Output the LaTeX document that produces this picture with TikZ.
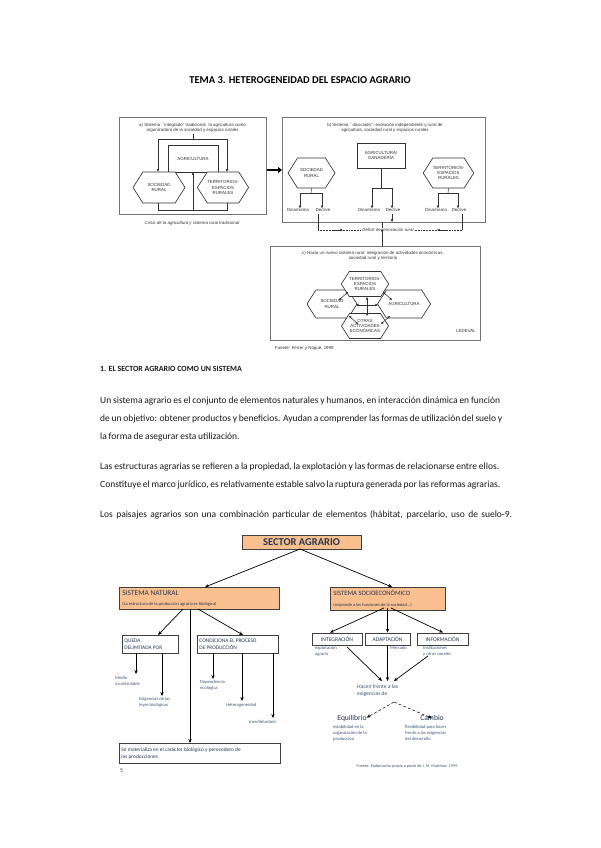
\documentclass[tikz,border=0pt]{standalone}
\usepackage{fontspec}
\setmainfont{Carlito}
\newfontfamily\scanf{Liberation Sans}
\usetikzlibrary{arrows.meta,shapes.symbols}
\definecolor{peach}{RGB}{250,191,143}
\definecolor{slate}{RGB}{36,54,80}
\definecolor{lblue}{RGB}{60,86,120}
\definecolor{scang}{RGB}{50,50,50}
\newcommand\bodysp{\spaceskip=0.19em plus 3em minus 0.03em\relax}
\tikzset{
 frame/.style={draw=black!55, line width=0.5pt, inner sep=0pt},
 sbox/.style={draw=scang, line width=0.6pt, fill=white, font=\scanf\fontsize{4.4}{5.2}\selectfont, align=center, inner sep=0.5pt, text=scang},
 shex/.style={shape=signal, signal to=east and west, signal pointer angle=115, draw=scang, line width=0.65pt, fill=white, font=\scanf\fontsize{4.4}{5.2}\selectfont, align=center, inner sep=0pt, text=scang},
 sline/.style={draw=scang, line width=0.55pt},
 sarr/.style={sline, -{Triangle[length=2.6pt,width=2.4pt]}},
 sdarr/.style={sline, {Triangle[length=2.4pt,width=2.2pt]}-{Triangle[length=2.4pt,width=2.2pt]}},
 stxt/.style={font=\scanf\fontsize{4.4}{5.2}\selectfont, text=scang, align=center, inner sep=0pt},
 obox/.style={draw=black!75, line width=0.9pt, fill=peach, text=slate, inner sep=2pt},
 wbox/.style={draw=black!75, line width=0.9pt, fill=white, text=slate, inner sep=2pt},
 carr/.style={draw=black, line width=0.7pt, -{Stealth[length=4pt,width=3.4pt]}},
 lbl/.style={font=\fontsize{4.6}{5.8}\selectfont, text=lblue, align=flush left, inner sep=0pt},
 body/.style={font=\fontsize{9.5}{11}\selectfont, anchor=base west, inner sep=0pt, text=black!90},
 bigarr/.style={draw=black, line width=1.5pt, -{Triangle[length=4pt,width=6pt]}},
}
\begin{document}
\begin{tikzpicture}[x=1pt,y=-1pt]
\fill[white] (0,0) rectangle (600,848);
\useasboundingbox (0,0) rectangle (600,848);

% title
\node[font=\bfseries\fontsize{10.5}{12}\selectfont, anchor=base] (title) at (300,84) {TEMA 3. HETEROGENEIDAD DEL ESPACIO AGRARIO};

% ---------- diagram a ----------
\node[frame, anchor=north west, minimum width=147, minimum height=97] (fa) at (119,117) {};
\node[stxt] (ha) at (192.5,127.5) {a) Sistema ``integrado'' tradicional: la agricultura como\\organizadora de la sociedad y espacios rurales};
\node[sbox, minimum width=50, minimum height=27] (agra) at (193,158.5) {AGRICULTURA};
\node[shex, minimum width=52, minimum height=31] (sra) at (159,187.5) {SOCIEDAD\\RURAL};
\node[shex, minimum width=47, minimum height=31] (tera) at (223,187.5) {TERRITORIOS-\\ESPACIOS\\RURALES};
\coordinate (atl) at (158,139); \coordinate (atr) at (227,139);
\coordinate (abl) at (158,210); \coordinate (abr) at (227,210); \coordinate (abm) at (193,210);
\coordinate (atm) at (193,134);
\draw[sline] (atl) -- (atr);
\draw[sline] (atm) -- (atm |- atl);
\draw[sarr] (atl) -- (atl |- sra.north);
\draw[sarr] (atr) -- (atr |- tera.north);
\draw[sline] (abl |- sra.south) -- (abl) -- (abr) -- (abr |- tera.south);
\draw[sarr] (abm) -- (agra.south);
\node[stxt, font=\scanf\itshape\fontsize{4.4}{5.2}\selectfont] (capa) at (192,223) {Crisis de la agricultura y sistema rural tradicional};
\coordinate (ab1) at (267,170); \coordinate (ab2) at (282,170);
\draw[bigarr] (ab1) -- (ab2);

% ---------- diagram b ----------
\node[frame, anchor=north west, minimum width=203, minimum height=105] (fb) at (282,117) {};
\node[stxt] (hb) at (385,127.5) {b) Sistema ``disociado'': evolución independiente y rural de\\agricultura, sociedad rural y espacios rurales};
\node[sbox, minimum width=48, minimum height=25] (agrb) at (381,155.5) {AGRICULTURA/\\GANADERÍA};
\node[shex, minimum width=47, minimum height=30] (srb) at (311.5,173) {SOCIEDAD\\RURAL};
\node[shex, minimum width=47, minimum height=30] (terb) at (448.5,173) {TERRITORIOS-\\ESPACIOS\\RURALES};
% brackets
\coordinate (lb1) at (311,193); \coordinate (lb2) at (300,193); \coordinate (lb3) at (322,193);
\draw[sline] (srb.south) -- (lb1); \draw[sline] (lb2) -- (lb3);
\coordinate (cb1) at (381,188); \coordinate (cb2) at (372,188); \coordinate (cb3) at (392,188);
\draw[sline] (agrb.south) -- (cb1); \draw[sline] (cb2) -- (cb3);
\coordinate (rb1) at (448,193); \coordinate (rb2) at (438,193); \coordinate (rb3) at (458,193);
\draw[sline] (terb.south) -- (rb1); \draw[sline] (rb2) -- (rb3);
\node[stxt] (din1) at (298,210) {Dinamismo};
\node[stxt] (dec1) at (323,210) {Declive};
\node[stxt] (din2) at (369,210) {Dinamismo};
\node[stxt] (dec2) at (393,210) {Declive};
\node[stxt] (din3) at (436,210) {Dinamismo};
\node[stxt] (dec3) at (459,210) {Declive};
\draw[sarr] (lb2) -- (din1.north -| lb2);
\draw[sarr] (lb3) -- (dec1.north -| lb3);
\draw[sarr] (cb2) -- (din2.north -| cb2);
\draw[sarr] (cb3) -- (dec2.north -| cb3);
\draw[sarr] (rb2) -- (din3.north -| rb2);
\draw[sarr] (rb3) -- (dec3.north -| rb3);
% deficit
\node[stxt, font=\scanf\itshape\fontsize{4.4}{5.2}\selectfont, fill=white, inner sep=1pt] (def) at (388,230) {Déficit de renovación rural};
\coordinate (dl) at (318,230); \coordinate (dr) at (462,230);
\coordinate (dlt) at (318,214); \coordinate (drt) at (462,214);
\coordinate (dm) at (382,222); \coordinate (dm2) at (382,228);
\draw[sline, densely dotted] (dl) -- (def.west);
\draw[sline, densely dotted] (def.east) -- (dr);
\draw[sline] (dlt) -- (dl); \draw[sline] (drt) -- (dr);
\draw[sline] (dm) -- (dm2);
\coordinate (dda) at (392,214); \coordinate (ddb) at (392,222);
\draw[sarr] (dda) -- (ddb);
\coordinate (ar1) at (333,230); \coordinate (ar2) at (343,230);
\draw[sarr] (ar1) -- (ar2);
\coordinate (ar3) at (447,230); \coordinate (ar4) at (437,230);
\draw[sarr] (ar3) -- (ar4);

% ---------- diagram c ----------
\node[frame, anchor=north west, minimum width=210, minimum height=94] (fc) at (270,246) {};
\draw[sarr] (fc.north -| dm) -- ([yshift=4]def.south -| dm);
\node[stxt] (hc) at (373,256) {c) Hacia un nuevo sistema rural: integración de actividades económicas,\\sociedad rural y territorio};
\node[shex, minimum width=50, minimum height=28] (src) at (332,304) {SOCIEDAD\\RURAL};
\node[shex, minimum width=53, minimum height=28] (agrc) at (404,304) {AGRICULTURA};
\node[shex, minimum width=47, minimum height=25] (terc) at (365,284) {TERRITORIOS-\\ESPACIOS\\RURALES};
\node[shex, minimum width=47, minimum height=25] (otc) at (365,326) {OTRAS\\ACTIVIDADES\\ECONÓMICAS};
\coordinate (cx) at (367,305);
\coordinate (c1a) at (339,300); \coordinate (c1b) at (348,292);
\coordinate (c2a) at (383,292); \coordinate (c2b) at (392,300);
\coordinate (c3a) at (349,316); \coordinate (c3b) at (358,324);
\coordinate (c4a) at (381,324); \coordinate (c4b) at (390,316);
\draw[sdarr] (c1a) -- (c1b);
\draw[sdarr] (c2a) -- (c2b);
\draw[sdarr] (c3a) -- (c3b);
\draw[sdarr] (c4a) -- (c4b);
\coordinate (cu) at (367,297); \coordinate (cd) at (367,316);
\coordinate (cl) at (356,305); \coordinate (cr) at (378,305);
\draw[sarr] (cx) -- (cu); \draw[sarr] (cx) -- (cd);
\draw[sarr] (cx) -- (cl); \draw[sarr] (cx) -- (cr);
\node[stxt] (led) at (466,331) {LEDEVAL};
\node[stxt, anchor=west] (fuc) at (275,348) {Fuente: Ferrer y Nogué, 1999};

% ---------- body text ----------
\node[body, font=\bfseries\fontsize{7.9}{10}\selectfont] (sec) at (100,371) {1. EL SECTOR AGRARIO COMO UN SISTEMA};
\node[body] (p1) at (100,403) {\bodysp\makebox[400pt][s]{Un sistema agrario es el conjunto de elementos naturales y humanos, en interacción dinámica en función}};
\node[body] (p2) at (100,421) {\bodysp\makebox[402pt][s]{de un objetivo: obtener productos y beneficios. Ayudan a comprender las formas de utilización del suelo y}};
\node[body] (p3) at (100,439) {\bodysp la forma de asegurar esta utilización.};
\node[body] (p4) at (100,469) {\bodysp\makebox[399pt][s]{Las estructuras agrarias se refieren a la propiedad, la explotación y las formas de relacionarse entre ellos.}};
\node[body] (p5) at (100,487) {\bodysp\makebox[400pt][s]{Constituye el marco jurídico, es relativamente estable salvo la ruptura generada por las reformas agrarias.}};
\node[body] (p6) at (100,517) {\bodysp\makebox[412pt][s]{Los paisajes agrarios son una combinación particular de elementos (hábitat, parcelario, uso de suelo-9.}};

% ---------- concept map ----------
\node[obox, minimum width=119, minimum height=14, inner sep=1pt, font=\bfseries\fontsize{10.5}{12}\selectfont] (sector) at (301.5,542) {SECTOR AGRARIO};
\node[obox, anchor=north west, text width=154, minimum height=22, inner sep=3pt, align=flush left] (nat) at (119,587) {{\fontsize{7.4}{8}\selectfont SISTEMA NATURAL}\\[-1.5pt]{\fontsize{4.5}{5}\selectfont (La estructura de la producción agraria es biológica)}};
\node[obox, anchor=north west, text width=109, minimum height=21, inner sep=3pt, align=flush left] (soc) at (330,587) {{\fontsize{6.6}{7.5}\selectfont SISTEMA SOCIOECONÓMICO}\\[-1.5pt]{\fontsize{4.5}{5}\selectfont (responde a las funciones de la sociedad...)}};
\coordinate (sbot) at (300,549);
\coordinate (natin) at (205,587); \coordinate (socin) at (392,587);
\draw[carr] (sbot) -- (natin);
\draw[carr] (sbot) -- (socin);

% natural branch
\node[wbox, anchor=north west, text width=52, minimum height=18, inner sep=2pt, align=flush left, font=\fontsize{5.4}{6.4}\selectfont] (queda) at (122,635) {QUEDA\\DELIMITADA POR};
\node[wbox, anchor=north west, text width=77, minimum height=18, inner sep=2pt, align=flush left, font=\fontsize{5.4}{6.4}\selectfont] (cond) at (197,635) {CONDICIONA EL PROCESO\\DE PRODUCCIÓN};
\node[wbox, anchor=north west, text width=157, minimum height=20, inner sep=2pt, align=flush left, font=\fontsize{5.4}{6.6}\selectfont] (mat) at (119,743) {Se materializa en el carácter biológico y perecedero de\\las producciones};
\coordinate (n1) at (183,609); \coordinate (n2) at (190,609); \coordinate (n3) at (198,609);
\coordinate (qin) at (158,635); \coordinate (cin) at (243,635);
\draw[carr] (n1) -- (qin);
\draw[carr] (n3) -- (cin);
\draw[carr] (n2) -- (mat.north -| n2);

\node[lbl, anchor=north west] (l1) at (115,676) {Medio\\incontrolable};
\node[lbl, anchor=north west] (l2) at (139,697) {Exigencias de las\\leyes biológicas};
\node[lbl, anchor=north west] (l3) at (200,680) {Dependencia\\ecológica};
\node[lbl, anchor=north west] (l4) at (226,703) {Heterogeneidad};
\node[lbl, anchor=north west] (l5) at (249,720) {Incertidumbre};
\coordinate (q1) at (136,653); \coordinate (q2) at (162,653);
\coordinate (k1) at (213,653); \coordinate (k2) at (242,653); \coordinate (k3) at (273,653);
\draw[carr] (q1) -- (136,674);
\draw[carr] (q2) -- (162,696);
\draw[carr] (k1) -- (213,679);
\draw[carr] (k2) -- (242,701);
\draw[carr] (k3) -- (273,718);
\node[font=\fontsize{6}{7}\selectfont, text=black!70, anchor=base west, inner sep=0pt] (pg) at (120,772) {5};

% socioeconomic branch
\node[wbox, minimum width=50, minimum height=12, inner sep=1pt, font=\fontsize{5.6}{6.5}\selectfont] (integ) at (337,639) {INTEGRACIÓN};
\node[wbox, minimum width=45, minimum height=12, inner sep=1pt, font=\fontsize{5.6}{6.5}\selectfont] (adapt) at (387.5,639) {ADAPTACIÓN};
\node[wbox, minimum width=51, minimum height=12, inner sep=1pt, font=\fontsize{5.6}{6.5}\selectfont] (info) at (442.5,639) {INFORMACIÓN};
\coordinate (s1) at (384,608); \coordinate (s2) at (387.5,608); \coordinate (s3) at (391,608);
\draw[carr] (s1) -- (integ.north -| 330,0);
\draw[carr] (s2) -- (adapt.north);
\draw[carr] (s3) -- (info.north -| 443,0);
\node[lbl, anchor=north west] (e1) at (315,646) {explotación\\agraria};
\node[lbl, anchor=north west] (e2) at (390,646) {Mercado};
\node[lbl, anchor=north west] (e3) at (423,646) {Instituciones\\y otros canales};
\node[lbl, anchor=north west, font=\fontsize{5.6}{7.5}\selectfont] (hac) at (357,684) {Hacen frente a las\\exigencias de};
\coordinate (m1) at (347,647); \coordinate (m2) at (387.5,645); \coordinate (m3) at (428,656);
\coordinate (t1) at (382,681); \coordinate (t2) at (387.5,681); \coordinate (t3) at (394,681);
\draw[carr] (m1) -- (t1);
\draw[carr] (m2) -- (t2);
\draw[carr] (m3) -- (t3);
\node[font=\fontsize{7.6}{9}\selectfont, text=slate, inner sep=0pt] (equi) at (352,718) {Equilibrio};
\node[font=\fontsize{7.6}{9}\selectfont, text=slate, inner sep=0pt] (camb) at (432,718) {Cambio};
\coordinate (hd) at (394,702);
\draw[carr, densely dashed, line width=0.5pt] (hd) -- ([yshift=-3]equi.north east);
\draw[carr, densely dashed, line width=0.5pt] (hd) -- ([yshift=-3]camb.north);
\node[lbl, anchor=north west] (eq2) at (333,725) {estabilidad en la\\organización de la\\producción};
\node[lbl, anchor=north west] (ca2) at (405,725) {flexibilidad para hacer\\frente a las exigencias\\del desarrollo};
\node[lbl, font=\fontsize{4.2}{5}\selectfont] (fuente) at (407,766) {Fuente: Elaboración propia a partir de J. M. Martínez, 1999};
\end{tikzpicture}
\end{document}
